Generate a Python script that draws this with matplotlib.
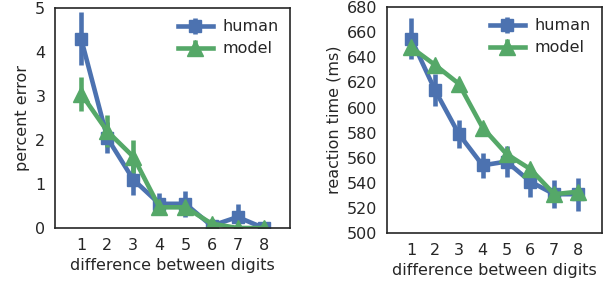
import numpy as np
import matplotlib.pyplot as plt

digits = [1, 2, 3, 4, 5, 6, 7, 8]

# percent error
human_err = [4.3, 2.05, 1.1, 0.55, 0.55, 0.05, 0.25, 0.0]
human_err_ci = [0.6, 0.35, 0.35, 0.25, 0.3, 0.1, 0.3, 0.05]
model_err = [3.05, 2.2, 1.62, 0.47, 0.47, 0.1, 0.0, 0.0]
model_err_ci = [0.38, 0.37, 0.38, 0.1, 0.1, 0.1, 0.0, 0.0]

# reaction time (ms)
human_rt = [655, 614, 579, 554, 557, 541, 531, 531]
human_rt_ci = [16, 13, 11, 10, 12, 12, 11, 13]
model_rt = [648, 634, 619, 584, 563, 551, 531, 533]
model_rt_ci = [0, 0, 0, 0, 0, 0, 0, 0]

blue = '#4C72B0'
green = '#55A868'
text_c = '#262626'

plt.rcParams['font.family'] = 'DejaVu Sans'
plt.rcParams['font.size'] = 11.5
plt.rcParams['text.color'] = text_c
plt.rcParams['axes.labelcolor'] = text_c
plt.rcParams['xtick.color'] = text_c
plt.rcParams['ytick.color'] = text_c

fig = plt.figure(figsize=(6.05, 2.85), dpi=100)
ax1 = fig.add_axes([0.091, 0.2, 0.388, 0.772])
ax2 = fig.add_axes([0.64, 0.182, 0.355, 0.793])


def draw(ax, h, hci, m, mci):
    ax.errorbar(digits, h, yerr=hci, color=blue, lw=3.3, marker='s', ms=8,
                elinewidth=3.3, capsize=0, label='human')
    ax.errorbar(digits, m, yerr=mci, color=green, lw=3.3, marker='^', ms=11,
                elinewidth=3.3, capsize=0, label='model')
    ax.set_xlim(0, 9)
    ax.set_xticks(digits)
    ax.set_xlabel('difference between digits')
    ax.tick_params(length=0, pad=7)
    for s in ax.spines.values():
        s.set_color(text_c)
        s.set_linewidth(1.2)
    ax.legend(loc='upper right', frameon=False, handlelength=2.2,
              borderaxespad=0.3, handletextpad=0.6, labelspacing=0.45)


draw(ax1, human_err, human_err_ci, model_err, model_err_ci)
ax1.set_ylim(0, 5)
ax1.set_yticks([0, 1, 2, 3, 4, 5])
ax1.set_ylabel('percent error')

draw(ax2, human_rt, human_rt_ci, model_rt, model_rt_ci)
ax2.set_ylim(500, 680)
ax2.set_yticks(np.arange(500, 681, 20))
ax2.set_ylabel('reaction time (ms)')

fig.savefig('out.png', dpi=100)
